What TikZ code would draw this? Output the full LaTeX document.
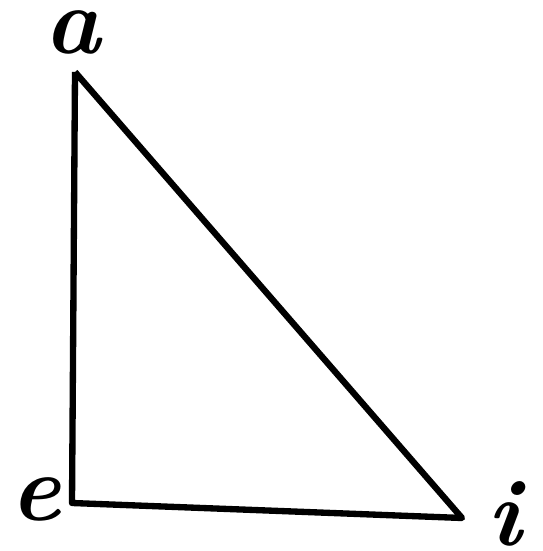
\documentclass[tikz,border=0pt]{standalone}
\usepackage{tikz}
\usetikzlibrary{positioning}

\begin{document}
\begin{tikzpicture}[letter/.style={inner sep=0pt,font=\fontsize{27}{30}\selectfont\bfseries\itshape}]
				\useasboundingbox (0,0) rectangle (5.43,5.51);
				\coordinate (va) at (0.75,4.79);
				\coordinate (ve) at (0.72,0.48);
				\coordinate (vi) at (4.62,0.33);

				\node[letter] (la) at (0.73,5.19) {a};
				\node[letter] (le) at (0.36,0.52) {e};
				\node[letter] (li) at (5.04,0.37) {i};

				\draw[line width=1.8pt,line join=round]
				(va) -- (ve) -- (vi) -- (va);
			\end{tikzpicture}
\end{document}
